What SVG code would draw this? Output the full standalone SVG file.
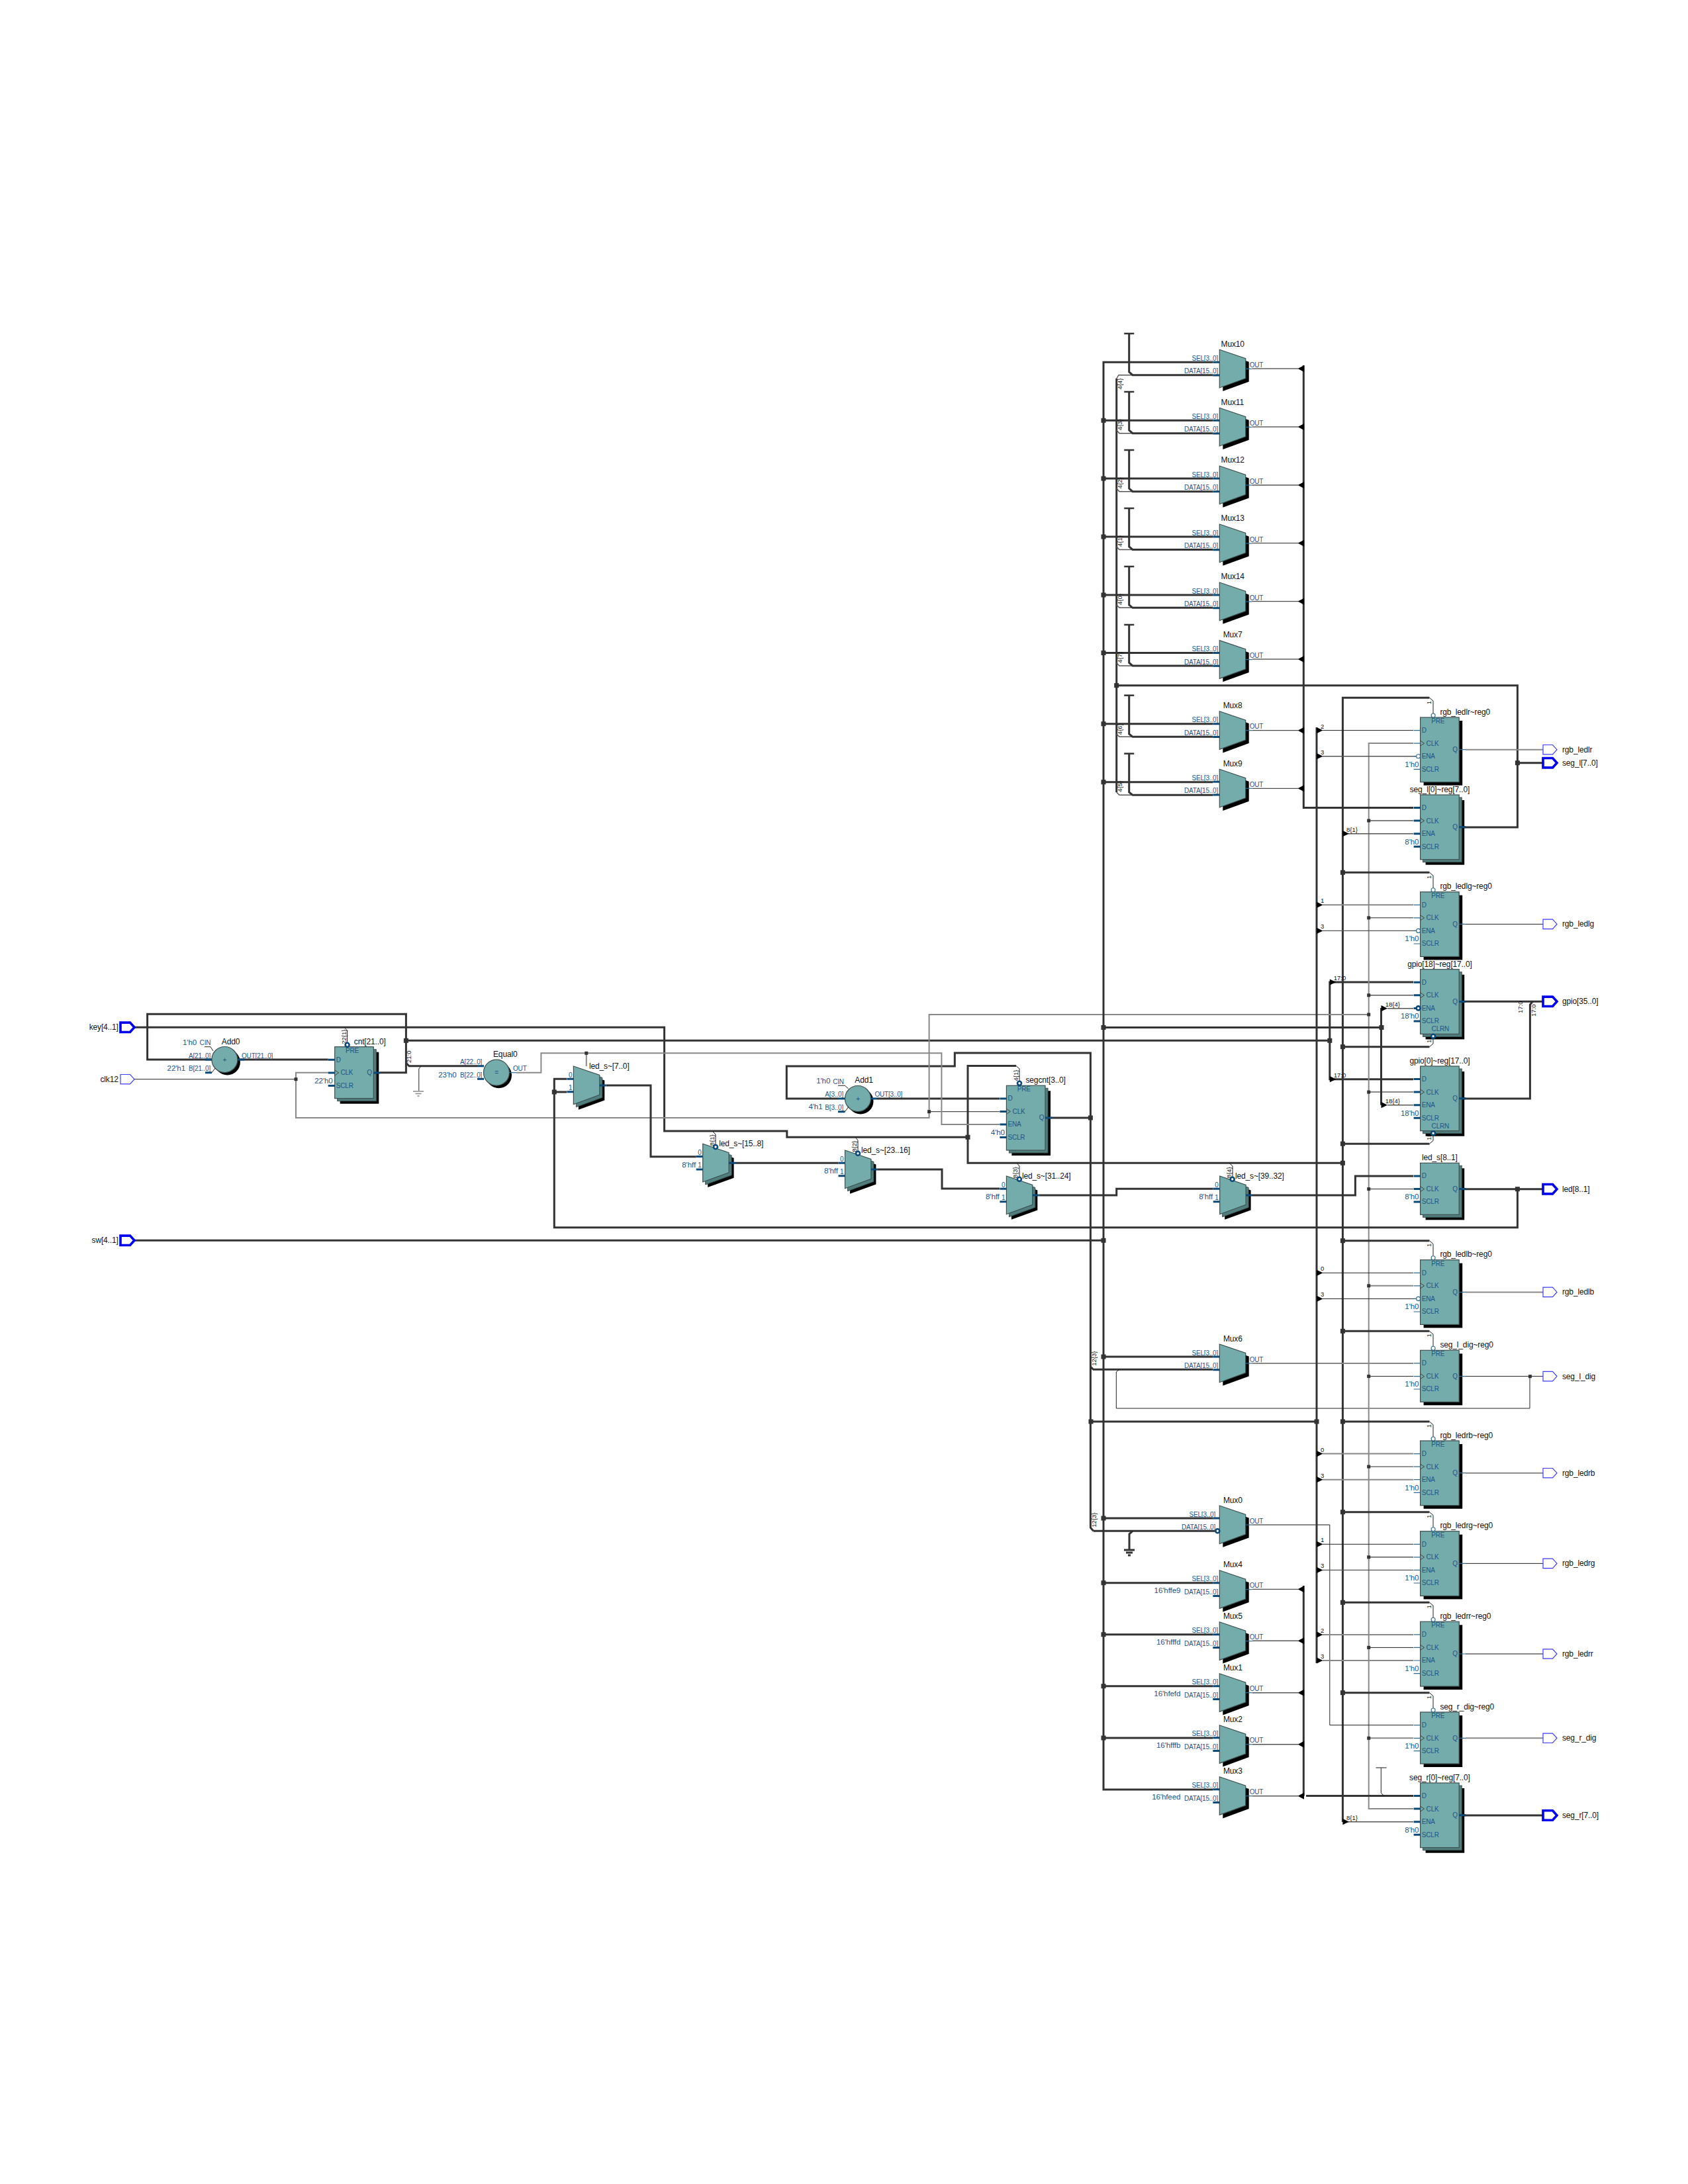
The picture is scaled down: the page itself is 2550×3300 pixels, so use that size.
<svg xmlns="http://www.w3.org/2000/svg" width="2550" height="3300" viewBox="0 0 2550 3300">
<style>
text{font-family:"Liberation Sans",Arial,sans-serif}
.l{font-size:10px;letter-spacing:-0.17px;fill:#1f5585}
.c{font-size:11.6px;letter-spacing:-0.12px;fill:#1f5585}
.n{font-size:12px;letter-spacing:-0.15px;fill:#111}
.s{font-size:9.5px;fill:#111}
.e{text-anchor:end}
.mid{text-anchor:middle}
.b{fill:none;stroke:#333;stroke-width:3}
.t{fill:none;stroke:#222;stroke-width:1}
.m{fill:none;stroke:#555;stroke-width:1.4}
.g{fill:none;stroke:#888;stroke-width:2}
.body{fill:#74abab;stroke:#3f4f4f;stroke-width:1.2}
.dark{fill:#507e7e;stroke:#3f4f4f;stroke-width:1}
.blk{fill:#000}
.st{stroke:#2f6a94;stroke-width:1.2;fill:none}
.sb{stroke:#0b4a78;stroke-width:3;fill:none}
.bub{fill:#fff;stroke:#2f6a94;stroke-width:1.1}
.bubt{fill:#fff;stroke:#0b4a78;stroke-width:2.6}
.pt{fill:#fff;stroke:#3b3bff;stroke-width:1.2}
.pb{fill:#fff;stroke:#0000f0;stroke-width:3.6}
.chev{fill:none;stroke:#444;stroke-width:1}
</style>
<defs>
<rect id="jb" x="-3.5" y="-3.5" width="7" height="7" fill="#333"/>
<rect id="js" x="-2.5" y="-2.5" width="5" height="5" fill="#333"/>
<polygon id="aR" points="0,-4.6 9.5,0 0,4.6" fill="#000"/>
<polygon id="aL" points="0.7,-5 -8.8,0 0.7,5" fill="#000"/>
<path id="pp" d="M0,-7.2H14.5L21,0L14.5,7.2H0Z"/>
<g id="R4">
<rect class="blk" x="5" y="5" width="58.6" height="97.7"/>
<rect class="body" width="58.6" height="97.7"/>
<path class="st" d="M-10,19.6H0M-10,39.1H0M-10,58.7H0M-10,78.3H0M58.6,48.7H68.6"/>
<path class="chev" d="M0,35.1L6,39.1L0,43.1"/>
</g>
<g id="R3">
<rect class="blk" x="5" y="5" width="58.6" height="78"/>
<rect class="body" width="58.6" height="78"/>
<path class="st" d="M-10,19.6H0M-10,39.3H0M-10,58.7H0M58.6,39.3H68.6"/>
<path class="chev" d="M0,35.3L6,39.3L0,43.3"/>
</g>
<g id="R4m">
<rect class="blk" x="8" y="8" width="58.6" height="97.7"/>
<rect class="dark" x="4" y="4" width="58.6" height="97.7"/>
<rect class="body" width="58.6" height="97.7"/>
<path class="sb" d="M-10,19.6H0M-10,39.1H0M-10,58.7H0M-10,78.3H0M58.6,48.7H68.6"/>
<path class="chev" d="M0,35.1L6,39.1L0,43.1"/>
</g>
<g id="R3m">
<rect class="blk" x="8" y="8" width="58.6" height="78"/>
<rect class="dark" x="4" y="4" width="58.6" height="78"/>
<rect class="body" width="58.6" height="78"/>
<path class="sb" d="M-10,19.6H0M-10,39.3H0M-10,58.7H0M58.6,39.3H68.6"/>
<path class="chev" d="M0,35.3L6,39.3L0,43.3"/>
</g>
<g id="Msh">
<polygon class="blk" points="5,5 44.4,18.4 44.4,48.4 5,62.7"/>
<polygon class="body" points="0,0 39.4,13.4 39.4,43.4 0,57.7"/>
<path class="st" d="M39.4,29H49.4"/>
</g>
<g id="M"><use href="#Msh"/><path class="sb" d="M-10,19H0M-10,38.7H0"/></g>
<g id="LM">
<polygon class="blk" points="7.5,7.5 46.9,21.4 46.9,51.4 7.5,65.7"/>
<polygon class="dark" points="4,4 43.4,17.4 43.4,47.4 4,61.7"/>
<polygon class="body" points="0,0 39.4,13.4 39.4,43.4 0,57.7"/>
<path class="sb" d="M-10,19.3H0M-10,38.7H0M39.4,29H49.4"/>
</g>
<g id="TB"><path d="M-7.5,0H7.5" stroke="#333" stroke-width="2.5"/></g>
</defs>
<rect width="2550" height="3300" fill="#fff"/>

<g id="connectors">
<!-- counters and feedback -->
<path class="b" d="M320,1601H222.6V1532.3H613.4V1620.7H574"/>
<path class="b" d="M359,1601H495.7"/>
<path class="b" d="M203,1552.3H1003.6V1709H1188.8V1718.3H1462"/>
<path class="b" d="M1535,1610.5H1462V1757.3H2028.4"/>
<path class="t" d="M1535,1610.5L1540,1615V1634"/>
<path class="t" d="M520,1552.3L524.6,1557V1575"/>
<path class="b" d="M2159.4,1054.3H2028.4V2753"/>
<path class="b" d="M613.4,1572.3H2008.8"/>
<path class="b" d="M2135,1484H2008.8V1630.7H2135"/>
<path class="b" d="M613.4,1606L618,1610.7H721"/>
<path class="t" d="M636,1610.7L632.8,1615V1648"/>
<path class="m" d="M624,1649H640M627.5,1652.5H636.5M630.5,1656H633.5" style="stroke:#888"/>
<path class="b" d="M1266,1660H1188.3V1611H1442.3V1591H1647.4V2308.3L1651.7,2313.3"/>
<path class="b" d="M1325,1660H1510"/>
<path class="b" d="M1588,1689H1647.4"/>
<path class="b" d="M1647.4,2065L1651.7,2069.3H1832"/>
<path class="b" d="M1651.7,2313.3H1836"/>
<path class="b" d="M1711,2313.3L1706,2318V2342"/>
<path class="b" d="M1698,2342H1714M1701,2346H1711M1704,2350H1708"/>
<path class="t" d="M1691,2069.3L1686.3,2073V2128H2311V2079.7"/>
<path class="b" d="M1648,2148H1989"/>
<!-- clock -->
<path class="t" d="M203,1630.7H447"/>
<path class="g" d="M495.7,1620.7H447V1689H1403.6V1533H2067.7"/>
<path class="t" d="M1403.6,1679.7H1510"/>
<path class="g" d="M2135,1123.1H2067.7V2733.1H2135"/>
<path class="m" d="M2067.7,1240H2135"/>
<path class="t" d="M2067.7,1386.8H2135"/>
<path class="m" d="M2067.7,1503.8H2135"/>
<path class="g" d="M2067.7,1650.1H2135"/>
<path class="t" d="M2067.7,1796.6H2135"/>
<path class="g" d="M2067.7,1942.8H2135"/>
<path class="t" d="M2067.7,2079.6H2135"/>
<path class="m" d="M2067.7,2216.1H2135"/>
<path class="m" d="M2067.7,2352.8H2135"/>
<path class="t" d="M2067.7,2489.4H2135"/>
<path class="g" d="M2067.7,2626.3H2135"/>
<!-- equal output -->
<path class="g" d="M780,1620.7H817.4V1591.3H1422.4V1699H1510"/>
<path class="g" d="M885.8,1591.3V1611"/>
<!-- led_s chain -->
<path class="b" d="M2204,1796.7H2331"/>
<path class="b" d="M2292.4,1796.7V1854.7H837.3V1630.3H856"/>
<path class="b" d="M837.3,1650H856"/>
<path class="b" d="M916,1640H983V1747.7H1051.7"/>
<path class="b" d="M1111,1757.3H1266.5"/>
<path class="b" d="M1326,1767H1423V1796H1510"/>
<path class="b" d="M1570,1806H1686.7V1796.3H1832.7"/>
<path class="b" d="M1892,1806H2047.4V1777H2135"/>
<path class="t" d="M1076,1709L1081,1714V1730"/>
<path class="t" d="M1292,1718.3L1296,1723V1739.5"/>
<path class="t" d="M1536,1757.3L1540,1762V1778.5"/>
<path class="t" d="M1857,1757.3L1862,1762V1778.5"/>
<!-- sw bus -->
<path class="b" d="M203,1874.3H1666.8"/>
<path class="b" d="M1832.3,547.3H1667V2704H1832.3"/>
<path class="b" d="M1667,635.3H1832.3M1667,723H1832.3M1667,811H1832.3M1667,899H1832.3M1667,986.5H1832.3M1667,1093.7H1832.3M1667,1181.7H1832.3M1667,2050H1832.3M1667,2294H1832.3M1667,2391.7H1832.3M1667,2469.7H1832.3M1667,2547.7H1832.3M1667,2626H1832.3"/>
<path class="b" d="M1667,1552.5H2087"/>
<path class="b" d="M2086.5,1523V1669.7"/>
<!-- mux data bus -->
<path class="b" d="M1686.7,572V1197"/>
<path class="m" d="M1686.7,572L1690,566.7H1712M1686.7,650L1691,654.7H1712M1686.7,738L1691,742.7H1712M1686.7,826L1691,830.5H1712M1686.7,914L1691,918.3H1712M1686.7,1001.5L1691,1006H1712M1686.7,1109L1691,1113.3H1712M1686.7,1197L1691,1201.3H1712"/>
<path class="b" d="M1705.7,504V562L1711,566.7H1832.3M1705.7,592V650L1711,654.7H1832.3M1705.7,680V738L1711,742.7H1832.3M1705.7,768V826L1711,830.5H1832.3M1705.7,856V914L1711,918.3H1832.3M1705.7,944V1001.5L1711,1006H1832.3M1705.7,1050.7V1109L1711,1113.3H1832.3M1705.7,1138.7V1197L1711,1201.3H1832.3"/>
<path class="b" d="M1686.7,1035.7H2292.4V1250H2204"/>
<path class="b" d="M2292.4,1152.7H2331"/>
<path class="b" d="M2204,1513.3H2331"/>
<path class="b" d="M2204,1660H2311.4V1518L2315.4,1513.3"/>
<path class="b" d="M2204,2743H2331"/>
<!-- mux out bus -->
<path class="b" d="M1969.3,552V1220.6H2135"/>
<path class="b" d="M1969.3,2396V2713.7"/>
<path class="b" d="M1973,2713.6H2135"/>
<path class="t" d="M2086.3,2671V2709.3L2091,2713.6"/>
<path class="m" d="M2078.4,2671H2094.6"/>
<path class="g" d="M1891.7,557H1961"/>
<path class="g" d="M1891.7,645H1961"/>
<path class="m" d="M1891.7,733H1961"/>
<path class="t" d="M1891.7,820.7H1961"/>
<path class="t" d="M1891.7,908.7H1961"/>
<path class="g" d="M1891.7,996H1961"/>
<path class="t" d="M1891.7,1103.7H1961"/>
<path class="t" d="M1891.7,1191.3H1961"/>
<path class="t" d="M1891.7,2401.3H1961"/>
<path class="m" d="M1891.7,2479.3H1961"/>
<path class="m" d="M1891.7,2557.7H1961"/>
<path class="m" d="M1891.7,2635.7H1961"/>
<path class="m" d="M1891.7,2713.7H1961"/>
<path class="g" d="M1891.7,2060H2135"/>
<path class="g" d="M1891.7,2304H2008.8"/>
<path class="t" d="M2008.8,2304V2606.6H2135"/>
<!-- decode bus -->
<path class="b" d="M1989,1099V2513"/>
<path class="t" d="M1998,1103.6H2135"/>
<path class="m" d="M1998,1142.7H2139"/>
<path class="g" d="M1998,1367.3H2135"/>
<path class="m" d="M1998,1406.4H2139"/>
<path class="t" d="M1998,1923.3H2135"/>
<path class="t" d="M1998,1962.4H2139"/>
<path class="g" d="M1998,2196.6H2135"/>
<path class="g" d="M1998,2235.7H2135"/>
<path class="t" d="M1998,2333.3H2135"/>
<path class="m" d="M1998,2372.4H2135"/>
<path class="g" d="M1998,2469.9H2135"/>
<path class="g" d="M1998,2509H2135"/>
<path class="m" d="M2096,1523.7H2135"/>
<path class="m" d="M2096,1669.7H2135"/>
<path class="m" d="M2036,1259.7H2135"/>
<path class="m" d="M2036,2752.7H2135"/>
<!-- PRE and CLRN straps -->
<path class="b" d="M2028.4,1318.3H2159.4M2028.4,1581.7H2159.4M2028.4,1728.2H2159.4M2028.4,1874.7H2159.4M2028.4,2011.3H2159.4M2028.4,2148H2159.4M2028.4,2284.7H2159.4M2028.4,2421.3H2159.4M2028.4,2557.7H2159.4"/>
<path class="t" d="M2159.4,1054.3L2165,1059V1078M2159.4,1318.3L2165,1323V1341.7M2159.4,1874.7L2165,1879.5V1897.7M2159.4,2011.3L2165,2016V2034.3M2159.4,2148L2165,2152.7V2171M2159.4,2284.7L2165,2289.5V2307.7M2159.4,2421.3L2165,2426V2444.3M2159.4,2557.7L2165,2562.5V2581"/>
<path class="t" d="M2159.4,1581.7L2165,1577V1568.7M2159.4,1728.2L2165,1723.5V1715.3"/>
<!-- output wires -->
<path class="g" d="M2214,1132.7H2331"/>
<path class="t" d="M2214,1396.4H2331"/>
<path class="g" d="M2214,1952.4H2331"/>
<path class="t" d="M2214,2079.6H2331"/>
<path class="g" d="M2214,2225.7H2331"/>
<path class="t" d="M2214,2362.4H2331"/>
<path class="g" d="M2214,2499H2331"/>
<path class="g" d="M2214,2626.3H2331"/>
<!-- junctions -->
<g>
<use href="#jb" x="613.4" y="1572.3"/><use href="#js" x="447" y="1630.7"/><use href="#js" x="885.8" y="1591.3"/>
<use href="#js" x="1403.6" y="1679.7"/><use href="#js" x="2067.7" y="1533"/><use href="#jb" x="837.3" y="1650"/>
<use href="#jb" x="1462" y="1718.3"/><use href="#jb" x="1647.4" y="1689"/><use href="#jb" x="1667" y="1552.5"/><use href="#jb" x="1667" y="1874.3"/>
<use href="#jb" x="2008.8" y="1572.3"/><use href="#jb" x="2087" y="1552.5"/><use href="#jb" x="2028.4" y="1757.3"/>
<use href="#jb" x="2292.4" y="1152.7"/><use href="#jb" x="2292.4" y="1796.7"/><use href="#js" x="2311.4" y="2079.7"/>
<use href="#jb" x="1686.7" y="1035.7"/><use href="#jb" x="1648" y="2148"/><use href="#jb" x="1989" y="2148"/>
<use href="#jb" x="1667" y="635.3"/><use href="#jb" x="1667" y="723"/><use href="#jb" x="1667" y="811"/><use href="#jb" x="1667" y="899"/><use href="#jb" x="1667" y="986.5"/><use href="#jb" x="1667" y="1093.7"/><use href="#jb" x="1667" y="1181.7"/><use href="#jb" x="1667" y="2050"/><use href="#jb" x="1667" y="2294"/><use href="#jb" x="1667" y="2391.7"/><use href="#jb" x="1667" y="2469.7"/><use href="#jb" x="1667" y="2547.7"/><use href="#jb" x="1667" y="2626"/>
<use href="#jb" x="2028.4" y="1318.3"/><use href="#jb" x="2028.4" y="1581.7"/><use href="#jb" x="2028.4" y="1728.2"/><use href="#jb" x="2028.4" y="1874.7"/><use href="#jb" x="2028.4" y="2011.3"/><use href="#jb" x="2028.4" y="2148"/><use href="#jb" x="2028.4" y="2284.7"/><use href="#jb" x="2028.4" y="2421.3"/><use href="#jb" x="2028.4" y="2557.7"/>
<use href="#js" x="2067.7" y="1240"/><use href="#js" x="2067.7" y="1386.8"/><use href="#js" x="2067.7" y="1503.8"/><use href="#js" x="2067.7" y="1650.1"/><use href="#js" x="2067.7" y="1796.6"/><use href="#js" x="2067.7" y="1942.8"/><use href="#js" x="2067.7" y="2079.6"/><use href="#js" x="2067.7" y="2216.1"/><use href="#js" x="2067.7" y="2352.8"/><use href="#js" x="2067.7" y="2489.4"/><use href="#js" x="2067.7" y="2626.3"/>
</g>
<!-- arrowheads -->
<g>
<use href="#aL" x="1969.3" y="557"/><use href="#aL" x="1969.3" y="645"/><use href="#aL" x="1969.3" y="733"/><use href="#aL" x="1969.3" y="820.7"/><use href="#aL" x="1969.3" y="908.7"/><use href="#aL" x="1969.3" y="996"/><use href="#aL" x="1969.3" y="1103.7"/><use href="#aL" x="1969.3" y="1191.3"/>
<use href="#aL" x="1969.3" y="2401.3"/><use href="#aL" x="1969.3" y="2479.3"/><use href="#aL" x="1969.3" y="2557.7"/><use href="#aL" x="1969.3" y="2635.7"/><use href="#aL" x="1969.3" y="2713.7"/>
<use href="#aR" x="1989" y="1103.6"/><use href="#aR" x="1989" y="1142.7"/><use href="#aR" x="1989" y="1367.3"/><use href="#aR" x="1989" y="1406.4"/><use href="#aR" x="1989" y="1923.3"/><use href="#aR" x="1989" y="1962.4"/><use href="#aR" x="1989" y="2196.6"/><use href="#aR" x="1989" y="2235.7"/><use href="#aR" x="1989" y="2333.3"/><use href="#aR" x="1989" y="2372.4"/><use href="#aR" x="1989" y="2469.9"/><use href="#aR" x="1989" y="2509"/>
<use href="#aR" x="2008.8" y="1484"/><use href="#aR" x="2008.8" y="1630.7"/><use href="#aR" x="2086.5" y="1523.7"/><use href="#aR" x="2086.5" y="1669.7"/><use href="#aR" x="2028.4" y="1259.7"/><use href="#aR" x="2028.4" y="2752.7"/>
</g>
<!-- T bars -->
<g>
<use href="#TB" x="1705.7" y="504"/><use href="#TB" x="1705.7" y="592"/><use href="#TB" x="1705.7" y="680"/><use href="#TB" x="1705.7" y="768"/><use href="#TB" x="1705.7" y="856"/><use href="#TB" x="1705.7" y="944"/><use href="#TB" x="1705.7" y="1050.7"/><use href="#TB" x="1705.7" y="1138.7"/>
</g>
<!-- bit labels -->
<g class="s">
<text class="s mid" transform="translate(1695.2 580) rotate(-90)">4{4}</text>
<text class="s mid" transform="translate(1695.2 641.7) rotate(-90)">4{3}</text>
<text class="s mid" transform="translate(1695.2 729.7) rotate(-90)">4{2}</text>
<text class="s mid" transform="translate(1695.2 817.5) rotate(-90)">4{1}</text>
<text class="s mid" transform="translate(1695.2 905.5) rotate(-90)">4{0}</text>
<text class="s mid" transform="translate(1695.2 993.3) rotate(-90)">4{7}</text>
<text class="s mid" transform="translate(1695.2 1101.7) rotate(-90)">4{6}</text>
<text class="s mid" transform="translate(1695.2 1188.3) rotate(-90)">4{5}</text>
<text class="s mid" transform="translate(1655.5 2052.7) rotate(-90)">12{3}</text>
<text class="s mid" transform="translate(1655.5 2296.7) rotate(-90)">12{3}</text>
<text class="s mid" transform="translate(522.5 1566.7) rotate(-90)">22{1}</text>
<text class="s mid" transform="translate(621 1596.7) rotate(-90)">21:0</text>
<text class="s mid" transform="translate(1537.5 1625) rotate(-90)">4{1}</text>
<text class="s mid" transform="translate(1078.5 1722.7) rotate(-90)">8{1}</text>
<text class="s mid" transform="translate(1294.3 1732.3) rotate(-90)">8{2}</text>
<text class="s mid" transform="translate(1537.2 1771.7) rotate(-90)">8{3}</text>
<text class="s mid" transform="translate(1860.2 1771.7) rotate(-90)">8{4}</text>
<text class="s mid" transform="translate(2300 1521.7) rotate(-90)">17:0</text>
<text class="s mid" transform="translate(2320 1526.7) rotate(-90)">17:0</text>
<text class="s mid" transform="translate(2162 1565) rotate(-90)">18{1}</text>
<text class="s mid" transform="translate(2162 1712) rotate(-90)">18{1}</text>
<text class="s mid" transform="translate(2162 1061.6) rotate(-90)">1</text>
<text class="s mid" transform="translate(2162 1325.3) rotate(-90)">1</text>
<text class="s mid" transform="translate(2162 1881.3) rotate(-90)">1</text>
<text class="s mid" transform="translate(2162 2017.9) rotate(-90)">1</text>
<text class="s mid" transform="translate(2162 2154.6) rotate(-90)">1</text>
<text class="s mid" transform="translate(2162 2291.3) rotate(-90)">1</text>
<text class="s mid" transform="translate(2162 2427.9) rotate(-90)">1</text>
<text class="s mid" transform="translate(2162 2564.6) rotate(-90)">1</text>
<text x="1995" y="1100.5" class="s">2</text><text x="1995" y="1139.6" class="s">3</text>
<text x="1995" y="1364.2" class="s">1</text><text x="1995" y="1403.3" class="s">3</text>
<text x="1995" y="1920.2" class="s">0</text><text x="1995" y="1959.3" class="s">3</text>
<text x="1995" y="2193.5" class="s">0</text><text x="1995" y="2232.6" class="s">3</text>
<text x="1995" y="2330.2" class="s">1</text><text x="1995" y="2369.3" class="s">3</text>
<text x="1995" y="2466.8" class="s">2</text><text x="1995" y="2505.9" class="s">3</text>
<text x="2014.7" y="1481" class="s">17:0</text><text x="2014.7" y="1627.7" class="s">17:0</text>
<text x="2092.8" y="1520.5" class="s">18{4}</text><text x="2092.8" y="1666.5" class="s">18{4}</text>
<text x="2034" y="1256.6" class="s">8{1}</text><text x="2034" y="2749.6" class="s">8{1}</text>
</g>
</g>

<g id="key"><use href="#pp" class="pb" x="182" y="1552.3"/><text x="178.7" y="1556.3" class="n e">key[4..1]</text></g>
<g id="clk12"><use href="#pp" class="pt" x="182" y="1630.7"/><text x="178.7" y="1634.7" class="n e">clk12</text></g>
<g id="sw"><use href="#pp" class="pb" x="182" y="1874.3"/><text x="178.7" y="1878.3" class="n e">sw[4..1]</text></g>

<g id="Add0">
<circle class="blk" cx="343.4" cy="1605" r="19.5"/><circle class="body" cx="339.4" cy="1601" r="19.5"/>
<path class="sb" d="M310,1601H320M310,1620.7H320M359,1601H369"/><path class="t" d="M309,1581.7H318L322,1588M320,1620.7L325,1614"/>
<text x="339.4" y="1604.5" class="l mid">+</text><text x="334.8" y="1577.5" class="n">Add0</text>
<text x="276" y="1578.5" class="c">1'h0</text><text x="301.6" y="1579" class="l">CIN</text>
<text x="318" y="1598.5" class="l e">A[21..0]</text><text x="252.6" y="1617.7" class="c">22'h1</text><text x="318" y="1618" class="l e">B[21..0]</text>
<text x="365" y="1598.5" class="l">OUT[21..0]</text>
</g>
<g id="cnt" transform="translate(505.7 1581.7)">
<use href="#R3m"/><circle class="bubt" cx="18.9" cy="-3" r="3"/>
<text x="16.3" y="9" class="l">PRE</text><text x="2.1" y="23" class="l">D</text><text x="8.7" y="42.7" class="l">CLK</text><text x="2.1" y="62.2" class="l">SCLR</text><text x="56.1" y="42.7" class="l e">Q</text>
<text x="-3" y="55" class="c e">22'h0</text><text x="29.1" y="-4" class="n">cnt[21..0]</text>
</g>
<g id="Equal0">
<circle class="blk" cx="753.5" cy="1624.7" r="19.5"/><circle class="body" cx="750" cy="1620.7" r="19.5"/>
<path class="sb" d="M721,1610.7H731M721,1630.3H731"/><path class="st" d="M769.5,1620.7H780"/>
<text x="750" y="1624" class="l mid">=</text><text x="745" y="1597.3" class="n">Equal0</text>
<text x="728.2" y="1608" class="l e">A[22..0]</text><text x="662.3" y="1627.5" class="c">23'h0</text><text x="728.2" y="1627.5" class="l e">B[22..0]</text><text x="775" y="1618" class="l">OUT</text>
</g>
<g id="led_s_7_0" transform="translate(866.4 1611)">
<use href="#LM"/><text x="-2" y="16.7" class="l e">0</text><text x="-2" y="36" class="l e">1</text><text x="23.6" y="4" class="n">led_s~[7..0]</text>
</g>
<g id="led_s_15_8" transform="translate(1061.7 1728.3)">
<use href="#LM"/><circle class="bubt" cx="19.3" cy="4.7" r="3"/><text x="-2" y="16.7" class="l e">0</text><text x="-2" y="36" class="l e">1</text><text x="-10.7" y="35.4" class="c e">8'hff</text><text x="24.5" y="4" class="n">led_s~[15..8]</text>
</g>
<g id="led_s_23_16" transform="translate(1276.5 1738)">
<use href="#LM"/><circle class="bubt" cx="19.5" cy="4.7" r="3"/><text x="-2" y="16.7" class="l e">0</text><text x="-2" y="36" class="l e">1</text><text x="-10.7" y="35.4" class="c e">8'hff</text><text x="24.5" y="4" class="n">led_s~[23..16]</text>
</g>
<g id="led_s_31_24" transform="translate(1520.4 1777)">
<use href="#LM"/><circle class="bubt" cx="19.5" cy="4.7" r="3"/><text x="-2" y="16.7" class="l e">0</text><text x="-2" y="36" class="l e">1</text><text x="-10.7" y="35.4" class="c e">8'hff</text><text x="23.5" y="4" class="n">led_s~[31..24]</text>
</g>
<g id="led_s_39_32" transform="translate(1842.7 1777)">
<use href="#LM"/><circle class="bubt" cx="19" cy="4.7" r="3"/><text x="-2" y="16.7" class="l e">0</text><text x="-2" y="36" class="l e">1</text><text x="-10.7" y="35.4" class="c e">8'hff</text><text x="23.3" y="4" class="n">led_s~[39..32]</text>
</g>
<g id="Add1">
<circle class="blk" cx="1300" cy="1664" r="19.5"/><circle class="body" cx="1296" cy="1660" r="19.5"/>
<path class="sb" d="M1266,1660H1276.5M1266,1679.7H1276.5M1315.5,1660H1325"/><path class="t" d="M1266,1640.3H1276.5L1281.6,1645M1276.5,1679.7L1282,1672"/>
<text x="1296" y="1663.5" class="l mid">+</text><text x="1291.3" y="1636" class="n">Add1</text>
<text x="1233.2" y="1637" class="c">1'h0</text><text x="1258.2" y="1638" class="l">CIN</text>
<text x="1274" y="1657" class="l e">A[3..0]</text><text x="1221.4" y="1676" class="c">4'h1</text><text x="1274" y="1676.5" class="l e">B[3..0]</text><text x="1321.4" y="1657" class="l">OUT[3..0]</text>
</g>
<g id="segcnt" transform="translate(1520.4 1640.3)">
<use href="#R4m"/><circle class="bubt" cx="19.6" cy="-3.6" r="3"/>
<text x="16.3" y="9" class="l">PRE</text><text x="2" y="23" class="l">D</text><text x="9.2" y="42.7" class="l">CLK</text><text x="2" y="62.2" class="l">ENA</text><text x="2" y="81.8" class="l">SCLR</text><text x="57" y="52.2" class="l e">Q</text>
<text x="-2.5" y="74.5" class="c e">4'h0</text><text x="29.1" y="-4" class="n">segcnt[3..0]</text>
</g>

<g id="Mux10" transform="translate(1842.3 528.3)"><use href="#M"/><text x="2.3" y="-4.7" class="n">Mux10</text><text x="-2.3" y="16.5" class="l e">SEL[3..0]</text><text x="-2.3" y="36.2" class="l e">DATA[15..0]</text><text x="45.4" y="26.5" class="l">OUT</text></g>
<g id="Mux11" transform="translate(1842.3 616.3)"><use href="#M"/><text x="2.3" y="-4.7" class="n">Mux11</text><text x="-2.3" y="16.5" class="l e">SEL[3..0]</text><text x="-2.3" y="36.2" class="l e">DATA[15..0]</text><text x="45.4" y="26.5" class="l">OUT</text></g>
<g id="Mux12" transform="translate(1842.3 704)"><use href="#M"/><text x="2.3" y="-4.7" class="n">Mux12</text><text x="-2.3" y="16.5" class="l e">SEL[3..0]</text><text x="-2.3" y="36.2" class="l e">DATA[15..0]</text><text x="45.4" y="26.5" class="l">OUT</text></g>
<g id="Mux13" transform="translate(1842.3 792)"><use href="#M"/><text x="2.3" y="-4.7" class="n">Mux13</text><text x="-2.3" y="16.5" class="l e">SEL[3..0]</text><text x="-2.3" y="36.2" class="l e">DATA[15..0]</text><text x="45.4" y="26.5" class="l">OUT</text></g>
<g id="Mux14" transform="translate(1842.3 880)"><use href="#M"/><text x="2.3" y="-4.7" class="n">Mux14</text><text x="-2.3" y="16.5" class="l e">SEL[3..0]</text><text x="-2.3" y="36.2" class="l e">DATA[15..0]</text><text x="45.4" y="26.5" class="l">OUT</text></g>
<g id="Mux7" transform="translate(1842.3 967.6)"><use href="#M"/><text x="5.4" y="-4.7" class="n">Mux7</text><text x="-2.3" y="16.5" class="l e">SEL[3..0]</text><text x="-2.3" y="36.2" class="l e">DATA[15..0]</text><text x="45.4" y="26.5" class="l">OUT</text></g>
<g id="Mux8" transform="translate(1842.3 1074.7)"><use href="#M"/><text x="5.4" y="-4.7" class="n">Mux8</text><text x="-2.3" y="16.5" class="l e">SEL[3..0]</text><text x="-2.3" y="36.2" class="l e">DATA[15..0]</text><text x="45.4" y="26.5" class="l">OUT</text></g>
<g id="Mux9" transform="translate(1842.3 1162.3)"><use href="#M"/><text x="5.4" y="-4.7" class="n">Mux9</text><text x="-2.3" y="16.5" class="l e">SEL[3..0]</text><text x="-2.3" y="36.2" class="l e">DATA[15..0]</text><text x="45.4" y="26.5" class="l">OUT</text></g>
<g id="Mux6" transform="translate(1842.3 2031)"><use href="#M"/><text x="5.7" y="-4.5" class="n">Mux6</text><text x="-2.3" y="16.5" class="l e">SEL[3..0]</text><text x="-2.3" y="36.2" class="l e">DATA[15..0]</text><text x="45.4" y="26.5" class="l">OUT</text></g>
<g id="Mux0" transform="translate(1842.3 2275)"><use href="#Msh"/><path class="sb" d="M-10,19H0"/><circle class="bubt" cx="-3" cy="38.3" r="3"/><text x="5.7" y="-4.5" class="n">Mux0</text><text x="-6.3" y="16.5" class="l e">SEL[3..0]</text><text x="-6.3" y="36" class="l e">DATA[15..0]</text><text x="45.4" y="26.5" class="l">OUT</text></g>
<g id="Mux4" transform="translate(1842.3 2372.7)"><use href="#M"/><text x="5.7" y="-4.5" class="n">Mux4</text><text x="-2.3" y="16.5" class="l e">SEL[3..0]</text><text x="-2.3" y="36.2" class="l e">DATA[15..0]</text><text x="-59" y="34.8" class="c e">16'hffe9</text><text x="45.4" y="26.5" class="l">OUT</text></g>
<g id="Mux5" transform="translate(1842.3 2450.7)"><use href="#M"/><text x="5.7" y="-4.5" class="n">Mux5</text><text x="-2.3" y="16.5" class="l e">SEL[3..0]</text><text x="-2.3" y="36.2" class="l e">DATA[15..0]</text><text x="-59" y="34.8" class="c e">16'hfffd</text><text x="45.4" y="26.5" class="l">OUT</text></g>
<g id="Mux1" transform="translate(1842.3 2528.7)"><use href="#M"/><text x="5.7" y="-4.5" class="n">Mux1</text><text x="-2.3" y="16.5" class="l e">SEL[3..0]</text><text x="-2.3" y="36.2" class="l e">DATA[15..0]</text><text x="-59" y="34.8" class="c e">16'hfefd</text><text x="45.4" y="26.5" class="l">OUT</text></g>
<g id="Mux2" transform="translate(1842.3 2606.7)"><use href="#M"/><text x="5.7" y="-4.5" class="n">Mux2</text><text x="-2.3" y="16.5" class="l e">SEL[3..0]</text><text x="-2.3" y="36.2" class="l e">DATA[15..0]</text><text x="-59" y="34.8" class="c e">16'hfffb</text><text x="45.4" y="26.5" class="l">OUT</text></g>
<g id="Mux3" transform="translate(1842.3 2684.7)"><use href="#M"/><text x="5.7" y="-4.5" class="n">Mux3</text><text x="-2.3" y="16.5" class="l e">SEL[3..0]</text><text x="-2.3" y="36.2" class="l e">DATA[15..0]</text><text x="-59" y="34.8" class="c e">16'hfeed</text><text x="45.4" y="26.5" class="l">OUT</text></g>

<g id="rgb_ledlr" transform="translate(2145.6 1084)"><use href="#R4"/><circle class="bub" cx="19.5" cy="-3" r="3"/><circle class="bub" cx="-3" cy="58.7" r="3"/><text x="16.7" y="9" class="l">PRE</text><text x="2.2" y="23" class="l">D</text><text x="9" y="42.6" class="l">CLK</text><text x="2.2" y="62.2" class="l">ENA</text><text x="2.2" y="81.8" class="l">SCLR</text><text x="56.3" y="52.2" class="l e">Q</text><text x="-2.2" y="74.8" class="c e">1'h0</text><text x="29.8" y="-4.4" class="n">rgb_ledlr~reg0</text></g>
<g id="seg_l_reg" transform="translate(2145.6 1201)"><use href="#R4m"/><text x="2.2" y="23" class="l">D</text><text x="9" y="42.6" class="l">CLK</text><text x="2.2" y="62.2" class="l">ENA</text><text x="2.2" y="81.8" class="l">SCLR</text><text x="56.3" y="52.2" class="l e">Q</text><text x="-2.2" y="74.8" class="c e">8'h0</text><text x="29.3" y="-4" class="n mid">seg_l[0]~reg[7..0]</text></g>
<g id="rgb_ledlg" transform="translate(2145.6 1347.7)"><use href="#R4"/><circle class="bub" cx="19.5" cy="-3" r="3"/><circle class="bub" cx="-3" cy="58.7" r="3"/><text x="16.7" y="9" class="l">PRE</text><text x="2.2" y="23" class="l">D</text><text x="9" y="42.6" class="l">CLK</text><text x="2.2" y="62.2" class="l">ENA</text><text x="2.2" y="81.8" class="l">SCLR</text><text x="56.3" y="52.2" class="l e">Q</text><text x="-2.2" y="74.8" class="c e">1'h0</text><text x="29.8" y="-4.4" class="n">rgb_ledlg~reg0</text></g>
<g id="gpio18_reg" transform="translate(2145.6 1464.7)"><use href="#R4m"/><circle class="bubt" cx="-3" cy="58.7" r="3"/><circle class="bubt" cx="19.5" cy="101" r="3"/><text x="2.2" y="23" class="l">D</text><text x="9" y="42.6" class="l">CLK</text><text x="2.2" y="62.2" class="l">ENA</text><text x="2.2" y="81.8" class="l">SCLR</text><text x="17" y="93.8" class="l">CLRN</text><text x="56.3" y="52.2" class="l e">Q</text><text x="-2.2" y="74.8" class="c e">18'h0</text><text x="29.3" y="-4" class="n mid">gpio[18]~reg[17..0]</text></g>
<g id="gpio0_reg" transform="translate(2145.6 1611)"><use href="#R4m"/><circle class="bubt" cx="19.5" cy="101.3" r="3"/><text x="2.2" y="23" class="l">D</text><text x="9" y="42.6" class="l">CLK</text><text x="2.2" y="62.2" class="l">ENA</text><text x="2.2" y="81.8" class="l">SCLR</text><text x="17" y="93.8" class="l">CLRN</text><text x="56.3" y="52.2" class="l e">Q</text><text x="-2.2" y="74.8" class="c e">18'h0</text><text x="29.3" y="-4" class="n mid">gpio[0]~reg[17..0]</text></g>
<g id="led_s_reg" transform="translate(2145.6 1757.3)"><use href="#R3m"/><text x="2.2" y="23" class="l">D</text><text x="9" y="42.7" class="l">CLK</text><text x="2.2" y="62.2" class="l">SCLR</text><text x="56.3" y="42.7" class="l e">Q</text><text x="-2.2" y="55" class="c e">8'h0</text><text x="29.3" y="-4" class="n mid">led_s[8..1]</text></g>
<g id="rgb_ledlb" transform="translate(2145.6 1903.7)"><use href="#R4"/><circle class="bub" cx="19.5" cy="-3" r="3"/><circle class="bub" cx="-3" cy="58.7" r="3"/><text x="16.7" y="9" class="l">PRE</text><text x="2.2" y="23" class="l">D</text><text x="9" y="42.6" class="l">CLK</text><text x="2.2" y="62.2" class="l">ENA</text><text x="2.2" y="81.8" class="l">SCLR</text><text x="56.3" y="52.2" class="l e">Q</text><text x="-2.2" y="74.8" class="c e">1'h0</text><text x="29.8" y="-4.4" class="n">rgb_ledlb~reg0</text></g>
<g id="seg_l_dig_reg" transform="translate(2145.6 2040.3)"><use href="#R3"/><circle class="bub" cx="19.5" cy="-3" r="3"/><text x="16.7" y="9" class="l">PRE</text><text x="2.2" y="23" class="l">D</text><text x="9" y="42.7" class="l">CLK</text><text x="2.2" y="62.2" class="l">SCLR</text><text x="56.3" y="42.7" class="l e">Q</text><text x="-2.2" y="55" class="c e">1'h0</text><text x="29.8" y="-4.4" class="n">seg_l_dig~reg0</text></g>
<g id="rgb_ledrb" transform="translate(2145.6 2177)"><use href="#R4"/><circle class="bub" cx="19.5" cy="-3" r="3"/><text x="16.7" y="9" class="l">PRE</text><text x="2.2" y="23" class="l">D</text><text x="9" y="42.6" class="l">CLK</text><text x="2.2" y="62.2" class="l">ENA</text><text x="2.2" y="81.8" class="l">SCLR</text><text x="56.3" y="52.2" class="l e">Q</text><text x="-2.2" y="74.8" class="c e">1'h0</text><text x="29.8" y="-4.4" class="n">rgb_ledrb~reg0</text></g>
<g id="rgb_ledrg" transform="translate(2145.6 2313.7)"><use href="#R4"/><circle class="bub" cx="19.5" cy="-3" r="3"/><text x="16.7" y="9" class="l">PRE</text><text x="2.2" y="23" class="l">D</text><text x="9" y="42.6" class="l">CLK</text><text x="2.2" y="62.2" class="l">ENA</text><text x="2.2" y="81.8" class="l">SCLR</text><text x="56.3" y="52.2" class="l e">Q</text><text x="-2.2" y="74.8" class="c e">1'h0</text><text x="29.8" y="-4.4" class="n">rgb_ledrg~reg0</text></g>
<g id="rgb_ledrr" transform="translate(2145.6 2450.3)"><use href="#R4"/><circle class="bub" cx="19.5" cy="-3" r="3"/><text x="16.7" y="9" class="l">PRE</text><text x="2.2" y="23" class="l">D</text><text x="9" y="42.6" class="l">CLK</text><text x="2.2" y="62.2" class="l">ENA</text><text x="2.2" y="81.8" class="l">SCLR</text><text x="56.3" y="52.2" class="l e">Q</text><text x="-2.2" y="74.8" class="c e">1'h0</text><text x="29.8" y="-4.4" class="n">rgb_ledrr~reg0</text></g>
<g id="seg_r_dig_reg" transform="translate(2145.6 2587)"><use href="#R3"/><circle class="bub" cx="19.5" cy="-3" r="3"/><text x="16.7" y="9" class="l">PRE</text><text x="2.2" y="23" class="l">D</text><text x="9" y="42.7" class="l">CLK</text><text x="2.2" y="62.2" class="l">SCLR</text><text x="56.3" y="42.7" class="l e">Q</text><text x="-2.2" y="55" class="c e">1'h0</text><text x="29.8" y="-4.4" class="n">seg_r_dig~reg0</text></g>
<g id="seg_r_reg" transform="translate(2145.6 2694)"><use href="#R4m"/><text x="2.2" y="23" class="l">D</text><text x="9" y="42.6" class="l">CLK</text><text x="2.2" y="62.2" class="l">ENA</text><text x="2.2" y="81.8" class="l">SCLR</text><text x="56.3" y="52.2" class="l e">Q</text><text x="-2.2" y="74.8" class="c e">8'h0</text><text x="29.3" y="-4" class="n mid">seg_r[0]~reg[7..0]</text></g>

<g id="p_rgb_ledlr"><use href="#pp" class="pt" x="2331" y="1132.7"/><text x="2360" y="1136.7" class="n">rgb_ledlr</text></g>
<g id="p_seg_l"><use href="#pp" class="pb" x="2331" y="1152.7"/><text x="2360" y="1156.7" class="n">seg_l[7..0]</text></g>
<g id="p_rgb_ledlg"><use href="#pp" class="pt" x="2331" y="1396.4"/><text x="2360" y="1400.4" class="n">rgb_ledlg</text></g>
<g id="p_gpio"><use href="#pp" class="pb" x="2331" y="1513.3"/><text x="2360" y="1517.3" class="n">gpio[35..0]</text></g>
<g id="p_led"><use href="#pp" class="pb" x="2331" y="1796.7"/><text x="2360" y="1800.7" class="n">led[8..1]</text></g>
<g id="p_rgb_ledlb"><use href="#pp" class="pt" x="2331" y="1952.4"/><text x="2360" y="1956.4" class="n">rgb_ledlb</text></g>
<g id="p_seg_l_dig"><use href="#pp" class="pt" x="2331" y="2079.6"/><text x="2360" y="2083.6" class="n">seg_l_dig</text></g>
<g id="p_rgb_ledrb"><use href="#pp" class="pt" x="2331" y="2225.7"/><text x="2360" y="2229.7" class="n">rgb_ledrb</text></g>
<g id="p_rgb_ledrg"><use href="#pp" class="pt" x="2331" y="2362.4"/><text x="2360" y="2366.4" class="n">rgb_ledrg</text></g>
<g id="p_rgb_ledrr"><use href="#pp" class="pt" x="2331" y="2499"/><text x="2360" y="2503" class="n">rgb_ledrr</text></g>
<g id="p_seg_r_dig"><use href="#pp" class="pt" x="2331" y="2626.3"/><text x="2360" y="2630.3" class="n">seg_r_dig</text></g>
<g id="p_seg_r"><use href="#pp" class="pb" x="2331" y="2743"/><text x="2360" y="2747" class="n">seg_r[7..0]</text></g>
</svg>
